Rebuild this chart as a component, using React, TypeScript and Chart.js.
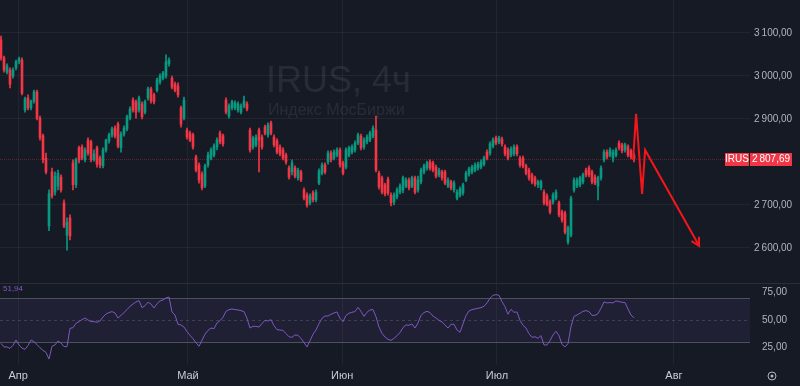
import React, { useEffect, useRef } from "react";
import { Chart, registerables } from "chart.js";

Chart.register(...registerables);

// ---- data (4h candles, IRUS) ----
const opens = [3084,3042,3009,3014,3000,3019,3033,3037,2921,2949,2926,2942,2963,2902,2861,2809,2651,2777,2730,2744,2765,2705,2630,2670,2798,2747,2833,2835,2805,2851,2847,2805,2833,2809,2791,2828,2849,2863,2879,2888,2833,2865,2877,2902,2944,2940,2921,2935,2916,2949,2970,2956,2967,2986,2995,3000,3028,2995,2981,2977,2926,2902,2874,2867,2863,2812,2793,2772,2744,2793,2809,2816,2835,2867,2861,2944,2907,2926,2926,2921,2916,2930,2935,2874,2835,2840,2874,2858,2881,2863,2891,2858,2849,2835,2828,2816,2786,2777,2786,2763,2777,2735,2723,2705,2728,2712,2751,2774,2793,2800,2821,2809,2816,2828,2798,2788,2816,2823,2828,2844,2860,2835,2847,2851,2860,2874,2774,2763,2747,2760,2723,2707,2719,2730,2735,2744,2758,2744,2763,2735,2754,2777,2786,2800,2798,2788,2770,2777,2777,2744,2754,2735,2716,2723,2728,2758,2772,2777,2781,2786,2788,2795,2823,2821,2837,2856,2847,2853,2835,2828,2816,2819,2835,2809,2809,2791,2781,2770,2763,2747,2740,2730,2721,2707,2707,2716,2705,2684,2681,2614,2630,2735,2744,2747,2754,2781,2786,2777,2765,2744,2763,2805,2823,2816,2809,2816,2844,2840,2828,2835,2826,2816];
const highs = [3093,3046,3028,3019,3019,3037,3044,3042,2951,2956,2944,2967,2967,2907,2865,2821,2735,2786,2777,2781,2770,2712,2670,2677,2805,2809,2837,2840,2833,2856,2851,2828,2837,2814,2833,2853,2867,2881,2884,2893,2870,2884,2909,2928,2949,2944,2953,2940,2944,2974,2974,2960,2995,3005,3011,3049,3042,3000,2986,2984,2930,2951,2879,2872,2867,2816,2798,2777,2795,2823,2833,2842,2856,2872,2865,2949,2935,2944,2942,2940,2935,2953,2940,2879,2860,2863,2879,2863,2886,2891,2895,2863,2854,2840,2833,2821,2791,2805,2791,2786,2781,2740,2728,2726,2733,2735,2784,2798,2798,2826,2826,2828,2833,2833,2802,2833,2837,2840,2849,2867,2865,2856,2863,2872,2884,2907,2779,2767,2751,2765,2728,2728,2740,2749,2767,2763,2763,2767,2767,2767,2786,2795,2802,2805,2802,2793,2786,2781,2781,2763,2758,2756,2735,2742,2751,2779,2788,2793,2798,2800,2805,2814,2828,2847,2856,2860,2860,2858,2840,2833,2835,2840,2840,2814,2814,2795,2786,2774,2767,2758,2758,2735,2726,2712,2728,2735,2709,2688,2686,2651,2721,2763,2763,2767,2774,2786,2791,2781,2770,2767,2791,2828,2828,2833,2828,2833,2849,2844,2844,2840,2830,2821];
const lows = [3037,3009,3005,2972,2995,3014,3028,2956,2916,2921,2921,2937,2898,2851,2798,2772,2640,2716,2723,2735,2730,2647,2595,2619,2735,2740,2798,2805,2800,2816,2800,2802,2788,2786,2786,2823,2844,2858,2856,2833,2823,2860,2872,2898,2916,2902,2916,2900,2912,2944,2937,2935,2963,2981,2991,2995,3023,2970,2963,2951,2881,2898,2853,2847,2830,2777,2751,2735,2740,2788,2805,2812,2828,2842,2837,2912,2902,2921,2921,2916,2912,2926,2919,2823,2830,2835,2777,2830,2863,2858,2863,2835,2819,2814,2805,2795,2760,2770,2763,2758,2754,2712,2695,2700,2707,2707,2747,2770,2772,2795,2800,2805,2812,2788,2770,2784,2812,2819,2823,2840,2828,2830,2842,2847,2856,2777,2737,2726,2721,2723,2698,2700,2714,2726,2728,2740,2735,2740,2726,2730,2749,2772,2781,2781,2777,2763,2765,2758,2747,2740,2735,2730,2712,2719,2723,2754,2767,2772,2777,2781,2784,2791,2805,2816,2833,2840,2842,2837,2814,2805,2812,2814,2814,2788,2786,2770,2758,2749,2744,2740,2735,2700,2698,2679,2702,2712,2672,2660,2633,2609,2626,2730,2740,2742,2749,2765,2765,2749,2747,2712,2758,2800,2807,2812,2800,2812,2828,2821,2823,2812,2807,2800];
const closes = [3042,3014,3023,2981,3014,3033,3040,2960,2947,2926,2942,2963,2902,2856,2805,2777,2726,2721,2767,2774,2735,2651,2660,2628,2747,2805,2805,2809,2828,2821,2805,2819,2795,2793,2828,2851,2863,2877,2860,2837,2865,2879,2905,2923,2921,2916,2949,2905,2940,2970,2942,2940,2991,3000,3007,3033,3037,2974,2967,2956,2888,2944,2858,2851,2835,2781,2758,2740,2791,2816,2828,2837,2851,2847,2842,2916,2930,2940,2937,2935,2930,2942,2923,2828,2856,2858,2851,2835,2867,2886,2867,2840,2823,2819,2809,2800,2765,2798,2767,2781,2758,2716,2700,2721,2712,2730,2779,2793,2777,2821,2805,2823,2828,2793,2774,2828,2833,2835,2844,2863,2833,2851,2858,2867,2879,2781,2742,2730,2726,2728,2705,2723,2735,2744,2763,2758,2740,2763,2730,2758,2781,2791,2798,2786,2781,2767,2781,2763,2751,2758,2740,2751,2730,2737,2747,2774,2784,2788,2793,2795,2800,2809,2809,2842,2851,2844,2856,2842,2819,2809,2830,2835,2819,2793,2791,2774,2763,2754,2749,2754,2754,2705,2702,2684,2723,2730,2677,2665,2637,2647,2716,2758,2758,2763,2770,2770,2770,2754,2751,2763,2786,2823,2812,2828,2823,2828,2833,2826,2840,2816,2812,2807.69];
const rsi = [28.8,25.5,25.5,24.2,27.0,31.8,27.3,24.5,23.3,26.7,31.8,30.3,27.6,24.8,22.4,20.6,14.5,26.1,27.3,30.9,29.1,25.8,25.8,42.4,43.0,47.0,48.5,50.3,51.8,50.0,48.5,48.5,47.9,49.1,52.7,55.5,56.7,57.6,56.4,51.8,54.2,56.7,59.4,62.4,64.5,66.4,67.6,61.2,63.0,66.1,64.5,60.9,64.8,67.3,68.2,70.0,70.9,57.3,54.5,46.1,45.5,43.6,39.4,36.1,33.0,29.4,26.1,31.5,37.0,40.6,42.7,42.1,47.3,49.4,52.4,57.9,59.4,60.0,59.4,59.1,58.5,57.6,51.5,42.7,44.2,44.2,43.6,46.7,49.7,49.1,50.3,44.8,41.2,40.9,40.6,37.6,34.8,34.2,36.4,36.1,33.3,29.4,25.5,31.2,37.0,40.9,46.7,51.5,53.6,53.6,55.2,56.4,57.3,51.5,48.5,54.2,56.1,57.0,57.6,61.5,57.9,53.3,57.0,59.1,59.4,53.0,43.6,37.9,34.5,32.4,31.5,33.3,35.8,38.5,43.0,45.5,45.2,46.4,42.7,47.3,54.2,56.7,57.9,56.7,53.6,51.8,49.7,48.2,45.5,42.7,46.1,46.1,40.9,38.8,46.4,53.9,58.2,59.4,60.0,60.6,61.2,62.4,65.5,69.7,72.4,73.0,72.4,66.7,62.1,55.2,59.7,57.0,57.3,49.7,45.2,42.7,37.6,34.2,34.8,33.3,35.8,27.3,27.3,31.2,36.4,39.7,35.8,27.9,25.5,28.5,43.9,53.3,54.5,56.1,57.9,58.5,57.6,54.2,54.2,55.8,60.6,66.4,65.5,65.8,65.5,67.3,66.7,66.1,65.8,60.0,54.5,51.94];

const priceTicks = [2600, 2700, 2900, 3000, 3100];
const rsiTicks = [25, 50, 75];
const monthLabels = ["Апр", "Май", "Июн", "Июл", "Авг"];
const monthIdx = [5.7, 62.3, 113.7, 165.3, 224.3];

// drawn annotation (zig-zag arrow), candle-index / price
const arrowIdx = [210.7, 211.7, 213.7, 214.7, 232.7];
const arrowPrice = [2805, 2912, 2726, 2828, 2605];

const symbol = "IRUS";
const title = "IRUS, 4ч";
const subtitle = "Индекс МосБиржи";

// ---- styles ----
const BG = "#161a25";
const UP = "#089981";
const DOWN = "#f23645";
const GRID = "rgba(255,255,255,0.05)";
const AXIS_TXT = "#b2b5be";
const FONT = "'Liberation Sans', Arial, sans-serif";
const X_MIN = -1 / 3;
const X_MAX = 249.667;

function fmtNum(v: number): string {
  const [int, dec] = v.toFixed(2).split(".");
  return int.replace(/\B(?=(\d{3})+(?!\d))/g, "\u202F") + "," + dec;
}

function PriceChart() {
  const ref = useRef<HTMLCanvasElement | null>(null);
  useEffect(() => {
    if (!ref.current) return;
    const colors = closes.map((c, i) => (c >= opens[i] ? UP : DOWN));
    const last = closes[closes.length - 1];
    const plugin = {
      id: "priceDeco",
      beforeDraw(chart: any) {
        const ctx = chart.ctx;
        ctx.save();
        ctx.fillStyle = BG;
        ctx.fillRect(0, 0, chart.width, chart.height);
        ctx.restore();
      },
      beforeDatasetsDraw(chart: any) {
        const ctx = chart.ctx;
        const a = chart.chartArea;
        const y = chart.scales.y.getPixelForValue(last);
        ctx.save();
        ctx.fillStyle = "rgba(255,255,255,0.08)";
        ctx.textBaseline = "alphabetic";
        ctx.font = `36px ${FONT}`;
        ctx.fillText(title, 266, 92);
        ctx.font = `16px ${FONT}`;
        ctx.fillText(subtitle, 268, 115);
        ctx.strokeStyle = "rgba(242,54,69,0.35)";
        ctx.lineWidth = 1;
        ctx.setLineDash([1, 1]);
        ctx.beginPath();
        ctx.moveTo(a.left, Math.round(y) + 0.5);
        ctx.lineTo(a.right, Math.round(y) + 0.5);
        ctx.stroke();
        ctx.restore();
      },
      afterDatasetsDraw(chart: any) {
        const ctx = chart.ctx;
        const xs = chart.scales.x;
        const ys = chart.scales.y;
        const n = arrowIdx.length;
        const x1 = xs.getPixelForValue(arrowIdx[n - 2]);
        const y1 = ys.getPixelForValue(arrowPrice[n - 2]);
        const x2 = xs.getPixelForValue(arrowIdx[n - 1]);
        const y2 = ys.getPixelForValue(arrowPrice[n - 1]);
        const ang = Math.atan2(y2 - y1, x2 - x1);
        const L = 9;
        ctx.save();
        ctx.strokeStyle = "#f5161b";
        ctx.lineWidth = 2;
        ctx.beginPath();
        ctx.moveTo(x2 - L * Math.cos(ang - 0.5), y2 - L * Math.sin(ang - 0.5));
        ctx.lineTo(x2, y2);
        ctx.lineTo(x2 - L * Math.cos(ang + 0.5), y2 - L * Math.sin(ang + 0.5));
        ctx.stroke();
        ctx.restore();
      },
      afterDraw(chart: any) {
        const ctx = chart.ctx;
        const y = Math.round(chart.scales.y.getPixelForValue(last));
        ctx.save();
        ctx.fillStyle = DOWN;
        ctx.fillRect(725, y - 6, 24, 13);
        ctx.fillRect(750, y - 6, 42, 13);
        ctx.fillStyle = "#ffffff";
        ctx.font = `10px ${FONT}`;
        ctx.textBaseline = "middle";
        ctx.textAlign = "center";
        ctx.fillText(symbol, 737, y + 0.5);
        ctx.fillText(fmtNum(last), 771, y + 0.5);
        ctx.restore();
      },
    };
    const chart = new Chart(ref.current, {
      type: "bar",
      data: {
        datasets: [
          {
            type: "line",
            data: arrowIdx.map((x, i) => ({ x, y: arrowPrice[i] })),
            borderColor: "#f5161b",
            borderWidth: 2,
            pointRadius: 0,
            tension: 0,
          } as any,
          {
            type: "bar",
            data: opens.map((o, i) => ({ x: i, y: [o, closes[i]] })),
            backgroundColor: colors,
            barThickness: 2,
            grouped: false,
            minBarLength: 1,
          } as any,
          {
            type: "bar",
            data: lows.map((l, i) => ({ x: i, y: [l, highs[i]] })),
            backgroundColor: colors,
            barThickness: 1,
            grouped: false,
          } as any,
        ],
      },
      options: {
        animation: false,
        responsive: false,
        devicePixelRatio: 1,
        layout: { padding: 0 },
        plugins: { legend: { display: false }, tooltip: { enabled: false } },
        scales: {
          x: {
            type: "linear",
            min: X_MIN,
            max: X_MAX,
            offset: false,
            afterBuildTicks: (s: any) => {
              s.ticks = monthIdx.map((v) => ({ value: v }));
            },
            afterFit: (s: any) => {
              s.height = 0;
              s.paddingLeft = 0;
              s.paddingRight = 0;
            },
            ticks: { display: false },
            grid: { color: GRID, drawTicks: false, offset: false },
            border: { display: false },
          },
          y: {
            position: "right",
            min: 2518.6,
            max: 3176.7,
            afterBuildTicks: (s: any) => {
              s.ticks = priceTicks.map((v) => ({ value: v }));
            },
            afterFit: (s: any) => {
              s.width = 50;
              s.paddingTop = 0;
              s.paddingBottom = 0;
            },
            ticks: {
              color: AXIS_TXT,
              padding: 4,
              font: { size: 10, family: FONT },
              callback: (v: any) => fmtNum(Number(v)),
            },
            grid: { color: GRID, drawTicks: false },
            border: { display: false },
          },
        },
      } as any,
      plugins: [plugin],
    });
    return () => chart.destroy();
  }, []);
  return <canvas ref={ref} width={800} height={283} style={{ display: "block" }} />;
}

function RsiChart() {
  const ref = useRef<HTMLCanvasElement | null>(null);
  useEffect(() => {
    if (!ref.current) return;
    const plugin = {
      id: "rsiDeco",
      beforeDraw(chart: any) {
        const ctx = chart.ctx;
        ctx.save();
        ctx.fillStyle = BG;
        ctx.fillRect(0, 0, chart.width, chart.height);
        ctx.restore();
      },
      beforeDatasetsDraw(chart: any) {
        const ctx = chart.ctx;
        const a = chart.chartArea;
        const ys = chart.scales.y;
        const y70 = Math.round(ys.getPixelForValue(70)) + 0.5;
        const y30 = Math.round(ys.getPixelForValue(30)) + 0.5;
        const y50 = Math.round(ys.getPixelForValue(50)) + 0.5;
        ctx.save();
        ctx.fillStyle = "rgba(126,87,194,0.1)";
        ctx.fillRect(a.left, y70, a.right - a.left, y30 - y70);
        ctx.strokeStyle = "rgba(120,123,134,0.55)";
        ctx.lineWidth = 1;
        ctx.beginPath();
        ctx.moveTo(a.left, y70);
        ctx.lineTo(a.right, y70);
        ctx.moveTo(a.left, y30);
        ctx.lineTo(a.right, y30);
        ctx.stroke();
        ctx.strokeStyle = "rgba(120,123,134,0.35)";
        ctx.setLineDash([3, 3]);
        ctx.beginPath();
        ctx.moveTo(a.left, y50);
        ctx.lineTo(a.right, y50);
        ctx.stroke();
        ctx.restore();
      },
      afterDraw(chart: any) {
        const ctx = chart.ctx;
        ctx.save();
        ctx.strokeStyle = "#2a2e39";
        ctx.lineWidth = 1;
        ctx.beginPath();
        ctx.moveTo(0, 0.5);
        ctx.lineTo(chart.width, 0.5);
        ctx.stroke();
        ctx.fillStyle = "#7e57c2";
        ctx.font = `8px ${FONT}`;
        ctx.textBaseline = "middle";
        ctx.fillText(fmtNum(rsi[rsi.length - 1]), 3, 6);
        ctx.strokeStyle = AXIS_TXT;
        ctx.beginPath();
        ctx.arc(772, 93, 4, 0, Math.PI * 2);
        ctx.stroke();
        ctx.fillStyle = AXIS_TXT;
        ctx.beginPath();
        ctx.arc(772, 93, 1.5, 0, Math.PI * 2);
        ctx.fill();
        ctx.restore();
      },
    };
    const chart = new Chart(ref.current, {
      type: "line",
      data: {
        datasets: [
          {
            data: rsi.map((v, i) => ({ x: i, y: v })),
            borderColor: "#7e57c2",
            borderWidth: 1,
            pointRadius: 0,
            tension: 0,
          },
        ],
      },
      options: {
        animation: false,
        responsive: false,
        devicePixelRatio: 1,
        layout: { padding: 0 },
        plugins: { legend: { display: false }, tooltip: { enabled: false } },
        scales: {
          x: {
            type: "linear",
            min: X_MIN,
            max: X_MAX,
            offset: false,
            afterBuildTicks: (s: any) => {
              s.ticks = monthIdx.map((v) => ({ value: v }));
            },
            afterFit: (s: any) => {
              s.height = 21;
              s.paddingLeft = 0;
              s.paddingRight = 0;
            },
            ticks: {
              color: "#c8cbd3",
              padding: 4,
              autoSkip: false,
              maxRotation: 0,
              font: { size: 11, family: FONT },
              callback: (_v: any, idx: number) => monthLabels[idx],
            },
            grid: { color: GRID, drawTicks: false },
            border: { display: false },
          },
          y: {
            position: "right",
            min: 9.1,
            max: 83.6,
            afterBuildTicks: (s: any) => {
              s.ticks = rsiTicks.map((v) => ({ value: v }));
            },
            afterFit: (s: any) => {
              s.width = 50;
              s.paddingTop = 0;
              s.paddingBottom = 0;
            },
            ticks: {
              color: AXIS_TXT,
              padding: 4,
              font: { size: 10, family: FONT },
              callback: (v: any) => fmtNum(Number(v)),
            },
            grid: { display: false },
            border: { display: false },
          },
        },
      } as any,
      plugins: [plugin],
    });
    return () => chart.destroy();
  }, []);
  return <canvas ref={ref} width={800} height={103} style={{ display: "block" }} />;
}

export default function App() {
  return (
    <div
      style={{
        position: "fixed",
        left: 0,
        top: 0,
        width: 800,
        height: 386,
        background: BG,
        overflow: "hidden",
      }}
    >
      <PriceChart />
      <RsiChart />
    </div>
  );
}
